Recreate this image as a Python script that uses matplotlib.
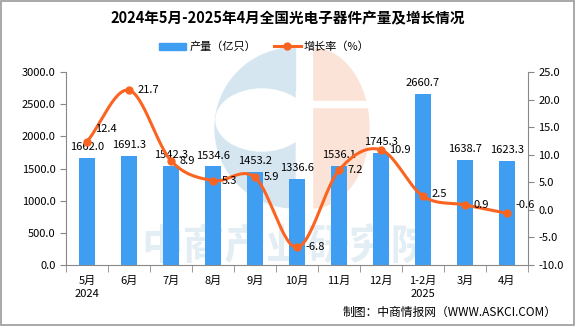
import numpy as np
import matplotlib
matplotlib.use('Agg')
from matplotlib import pyplot as plt
from matplotlib.patches import Rectangle, Wedge, Ellipse

plt.rcParams['font.family'] = ['Noto Sans CJK SC', 'DejaVu Sans']

months = ['5月\n2024', '6月', '7月', '8月', '9月', '10月', '11月', '12月', '1-2月\n2025', '3月', '4月']
output = [1662.0, 1691.3, 1542.3, 1534.6, 1453.2, 1336.6, 1536.1, 1745.3, 2660.7, 1638.7, 1623.3]
growth = [12.4, 21.7, 8.9, 5.3, 5.9, -6.8, 7.2, 10.9, 2.5, 0.9, -0.6]

bar_color = '#3f9ef2'
line_color = '#fb6420'
grey = '#888888'


def smooth(xs, ys, n=30):
    # catmull-rom through the points so the line bends like a spline chart
    xs = np.asarray(xs, float)
    ys = np.asarray(ys, float)
    px = np.concatenate([[2 * xs[0] - xs[1]], xs, [2 * xs[-1] - xs[-2]]])
    py = np.concatenate([[2 * ys[0] - ys[1]], ys, [2 * ys[-1] - ys[-2]]])
    outx, outy = [], []
    t = np.linspace(0, 1, n)
    for i in range(1, len(px) - 2):
        for p, out in ((px, outx), (py, outy)):
            p0, p1, p2, p3 = p[i - 1], p[i], p[i + 1], p[i + 2]
            out.extend(0.5 * ((2 * p1) + (-p0 + p2) * t
                              + (2 * p0 - 5 * p1 + 4 * p2 - p3) * t ** 2
                              + (-p0 + 3 * p1 - 3 * p2 + p3) * t ** 3))
    return np.array(outx), np.array(outy)


fig = plt.figure(figsize=(5.75, 3.26), dpi=100)
fig.patches.append(Rectangle((0.001, 0.002), 0.997, 0.995, transform=fig.transFigure,
                             fill=False, edgecolor='#999999', linewidth=1.2))

# background logo, drawn in pixel units on its own axes
bg = fig.add_axes([0, 0, 1, 1], zorder=-1)
bg.set_xlim(0, 575)
bg.set_ylim(326, 0)
bg.axis('off')
blue_wm = '#d6e6f1'
pink_wm = '#fbe3d8'
bg.add_patch(Ellipse((312, 128), 114, 160, color=pink_wm))
bg.add_patch(Rectangle((250, 40), 62, 180, color='white'))
bg.add_patch(Rectangle((305, 101), 70, 6, color='white'))
bg.add_patch(Wedge((295, 128), 80, 90, 270, color=blue_wm))
bg.add_patch(Ellipse((262, 120), 92, 62, color='white'))
bg.add_patch(Rectangle((280, 48), 15, 42, color=blue_wm))
bg.text(287, 248, '中商产业研究院', fontsize=30, color='#e3edf4', fontweight='bold',
        ha='center', va='center')

ax = fig.add_axes([0.115, 0.187, 0.803, 0.592])
ax.patch.set_alpha(0)
x = np.arange(len(months))
ax.bar(x, output, width=0.38, color=bar_color, zorder=2)
ax.set_ylim(0, 3000)
ax.set_xlim(-0.5, len(months) - 0.5)
ax.set_yticks(np.arange(0, 3001, 500))
ax.set_yticklabels([f'{v:.1f}' for v in np.arange(0, 3001, 500)])
ax.set_xticks(x)
ax.set_xticklabels(months, fontsize=8, linespacing=1.3)
ax.set_xticks(np.arange(-0.5, len(months)), minor=True)
ax.tick_params(axis='x', which='major', length=0, pad=8)
ax.tick_params(axis='x', which='minor', length=5, color=grey, direction='out')
ax.tick_params(axis='y', labelsize=8, length=4, color=grey)
for s in ['top', 'right']:
    ax.spines[s].set_visible(False)
for s in ['left', 'bottom']:
    ax.spines[s].set_color(grey)

for xi, v in zip(x, output):
    ax.text(xi, v + 90, f'{v:.1f}', ha='center', va='bottom', fontsize=8, zorder=5)

ax2 = ax.twinx()
ax2.set_ylim(-10, 25)
ax2.set_yticks(np.arange(-10, 26, 5))
ax2.set_yticklabels([f'{v:.1f}' for v in np.arange(-10, 26, 5)])
ax2.tick_params(axis='y', labelsize=8, length=4, color=grey)
for s in ['top', 'left', 'bottom']:
    ax2.spines[s].set_visible(False)
ax2.spines['right'].set_color(grey)

sx, sy = smooth(x, growth)
ax2.plot(sx, sy, color=line_color, linewidth=2.2, zorder=3)
ax2.plot(x, growth, 'o', color=line_color, markersize=5, zorder=4)
lift = [2.2, 0, 0, 0, 0, 0, 0, 0, 0.3, 0, 1.4]
for xi, v, dy in zip(x, growth, lift):
    ax2.text(xi + 0.2, v + dy, f'{v:.1f}', ha='left', va='center', fontsize=8, zorder=5)

# legend
fig.legend(handles=[Rectangle((0, 0), 1, 1, color=bar_color),
                    plt.Line2D([], [], color=line_color, linewidth=2.2, marker='o', markersize=5)],
           labels=['产量（亿只）', '增长率（%）'], loc='center', bbox_to_anchor=(0.46, 0.856),
           ncol=2, frameon=False, fontsize=8, handlelength=2.4, handletextpad=0.3,
           columnspacing=1.6)

fig.text(0.5, 0.945, '2024年5月-2025年4月全国光电子器件产量及增长情况', ha='center', va='center',
         fontsize=10.5, fontweight='bold')
fig.text(0.968, 0.043, '制图：中商情报网（WWW.ASKCI.COM）', ha='right', va='center', fontsize=8.5)

fig.savefig('out.png', dpi=100)
